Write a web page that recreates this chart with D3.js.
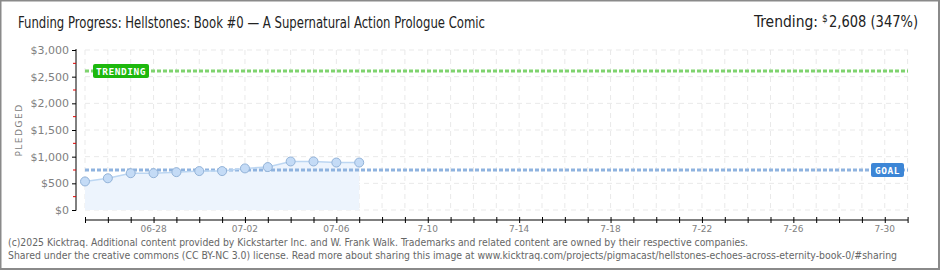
<!DOCTYPE html>
<html>
<head>
<meta charset="utf-8">
<script src="https://cdn.jsdelivr.net/npm/d3@7"></script>
<style>
  body { margin: 0; background: #fff; }
  svg { display: block; }
</style>
</head>
<body>
<div id="chart"></div>
<script>
// data
var dates = ["2025-06-25","2025-06-26","2025-06-27","2025-06-28","2025-06-29","2025-06-30","2025-07-01",
             "2025-07-02","2025-07-03","2025-07-04","2025-07-05","2025-07-06","2025-07-07"];
var pledged = [535, 595, 690, 690, 710, 730, 730, 780, 805, 910, 910, 890, 890];
var goal = 750;
var trending = 2608;
var tickDates = ["2025-06-28","2025-07-02","2025-07-06","2025-07-10","2025-07-14","2025-07-18","2025-07-22","2025-07-26","2025-07-30"];
var tickLabels = ["06-28","07-02","07-06","7-10","7-14","7-18","7-22","7-26","7-30"];
var yTicks = [0, 500, 1000, 1500, 2000, 2500, 3000];

var W = 940, H = 270;
var parse = d3.timeParse("%Y-%m-%d");

var svg = d3.select("#chart").append("svg")
  .attr("width", W).attr("height", H);

// outer frame
svg.append("rect")
  .attr("x", 0.5).attr("y", 0.5).attr("width", W - 1.5).attr("height", H - 1.5)
  .attr("fill", "#fff").attr("stroke", "#8a8a8a").attr("stroke-width", 2);

var x = d3.scaleTime()
  .domain([parse("2025-06-25"), parse("2025-07-31")])
  .range([85, 907.6]);
var y = d3.scaleLinear().domain([0, 3000]).range([210, 50]);

var data = dates.map(function(d, i) { return {date: parse(d), value: pledged[i]}; });

// grid
var days = d3.timeDay.range(parse("2025-06-25"), d3.timeDay.offset(parse("2025-07-31"), 1));
svg.append("g").selectAll("line").data(days).enter().append("line")
  .attr("x1", d => x(d)).attr("x2", d => x(d))
  .attr("y1", y(3000)).attr("y2", y(0))
  .attr("stroke", "#e9e9e9").attr("stroke-dasharray", "5,4");
svg.append("g").selectAll("line").data(yTicks).enter().append("line")
  .attr("x1", 85).attr("x2", 908)
  .attr("y1", d => y(d)).attr("y2", d => y(d))
  .attr("stroke", "#e9e9e9").attr("stroke-dasharray", "5,4");

// area + line
svg.append("path").datum(data)
  .attr("fill", "#edf4fd")
  .attr("d", d3.area().x(d => x(d.date)).y0(y(0)).y1(d => y(d.value)));

// goal + trending lines
function refLine(v, col) {
  svg.append("line")
    .attr("x1", 85).attr("x2", 908)
    .attr("y1", y(v)).attr("y2", y(v))
    .attr("stroke", col).attr("stroke-width", 3).attr("stroke-dasharray", "4,2");
}
refLine(goal, "#8fb3df");
refLine(trending, "#7fd36f");

svg.append("path").datum(data)
  .attr("fill", "none").attr("stroke", "#bcd6f2").attr("stroke-width", 1.5)
  .attr("d", d3.line().x(d => x(d.date)).y(d => y(d.value)));

svg.append("g").selectAll("circle").data(data).enter().append("circle")
  .attr("cx", d => x(d.date)).attr("cy", d => y(d.value)).attr("r", 4.5)
  .attr("fill", "#c4dbf6").attr("stroke", "#93b3d8").attr("stroke-width", 1);

// labels on reference lines
function tag(xl, v, w, txt, col) {
  svg.append("rect")
    .attr("x", xl).attr("y", y(v) - 7).attr("width", w).attr("height", 14)
    .attr("rx", 2).attr("fill", col);
  svg.append("text")
    .attr("x", xl + w / 2).attr("y", y(v) + 4)
    .attr("text-anchor", "middle").attr("fill", "#fff")
    .style("font-family", "'DejaVu Sans Mono', monospace").style("font-size", "9.5px")
    .style("font-weight", "bold").style("letter-spacing", "0.5px")
    .text(txt);
}
tag(93, trending, 56, "TRENDING", "#1db80d");
tag(871, goal, 33, "GOAL", "#3d86d6");

// y axis
var yAxis = d3.axisLeft(y).tickValues(yTicks).tickSize(4)
  .tickFormat(d => "$" + d3.format(",")(d));
var gy = svg.append("g").attr("transform", "translate(76,0)").call(yAxis);
gy.select(".domain").attr("stroke", "#000").attr("d", "M0,49V210.5");
gy.selectAll(".tick line").attr("stroke", "#000");
gy.selectAll(".tick text").attr("fill", "#808080").attr("x", -7)
  .style("font-family", "'DejaVu Sans', sans-serif").style("font-size", "11px");
svg.append("g").attr("transform", "translate(76,0)")
  .selectAll("line").data([250, 750, 1250, 1750, 2250, 2750]).enter().append("line")
  .attr("x1", -3).attr("x2", 0).attr("y1", d => y(d)).attr("y2", d => y(d))
  .attr("stroke", "#e00000");

svg.append("text")
  .attr("transform", "translate(22,130) rotate(-90)")
  .attr("text-anchor", "middle").attr("fill", "#808080")
  .style("font-family", "'DejaVu Sans', sans-serif").style("font-size", "9px")
  .style("letter-spacing", "1.5px")
  .text("PLEDGED");

// x axis
var xAxis = d3.axisBottom(x).ticks(d3.timeDay.every(1)).tickSize(0).tickFormat("");
var gx = svg.append("g").attr("transform", "translate(0,220)").call(xAxis);
gx.select(".domain").attr("stroke", "#000").attr("d", "M85,0H908");
gx.selectAll(".tick line").attr("stroke", "#000").attr("y1", -3).attr("y2", 3);
svg.append("g").selectAll("text").data(tickDates).enter().append("text")
  .attr("x", d => x(parse(d))).attr("y", 232)
  .attr("text-anchor", "middle").attr("fill", "#808080")
  .style("font-family", "'DejaVu Sans', sans-serif").style("font-size", "9px")
  .text((d, i) => tickLabels[i]);

// title
var headFont = "'Liberation Sans Narrow', 'DejaVu Sans Condensed', sans-serif";
svg.append("text")
  .attr("x", 18).attr("y", 28)
  .attr("fill", "#222")
  .style("font-family", headFont)
  .style("font-size", "16px")
  .attr("textLength", 467).attr("lengthAdjust", "spacingAndGlyphs")
  .text("Funding Progress: Hellstones: Book #0 \u2014 A Supernatural Action Prologue Comic");

// trending summary, top right
svg.append("text")
  .attr("x", 754).attr("y", 27).attr("fill", "#222")
  .attr("textLength", 64).attr("lengthAdjust", "spacingAndGlyphs")
  .style("font-family", headFont).style("font-size", "16px")
  .text("Trending:");
svg.append("text")
  .attr("x", 822).attr("y", 22).attr("fill", "#222")
  .style("font-family", headFont).style("font-size", "10px")
  .text("$");
svg.append("text")
  .attr("x", 829).attr("y", 27).attr("fill", "#222")
  .attr("textLength", 89).attr("lengthAdjust", "spacingAndGlyphs")
  .style("font-family", headFont).style("font-size", "16px")
  .text(d3.format(",")(trending) + " (347%)");

// footer
var foot = ["(c)2025 Kicktraq. Additional content provided by Kickstarter Inc. and W. Frank Walk. Trademarks and related content are owned by their respective companies.",
  "Shared under the creative commons (CC BY-NC 3.0) license. Read more about sharing this image at www.kicktraq.com/projects/pigmacast/hellstones-echoes-across-eternity-book-0/#sharing"];
var footLen = [740, 889];
svg.append("g").selectAll("text").data(foot).enter().append("text")
  .attr("x", 8).attr("y", (d, i) => 246 + i * 13)
  .attr("fill", "#666")
  .style("font-family", "'DejaVu Sans Condensed', 'DejaVu Sans', sans-serif")
  .style("font-size", "10px")
  .attr("textLength", (d, i) => footLen[i]).attr("lengthAdjust", "spacingAndGlyphs")
  .text(d => d);
</script>
</body>
</html>
